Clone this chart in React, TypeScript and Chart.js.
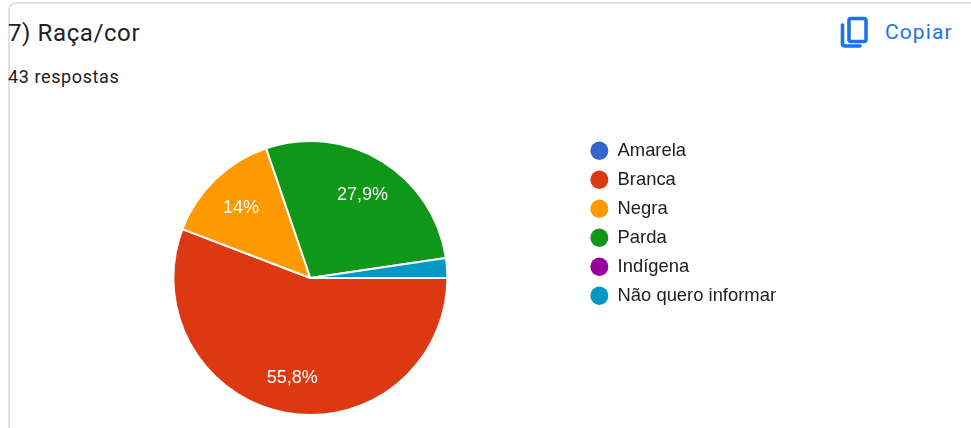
import React, { useEffect, useRef } from "react";
import { Chart, registerables } from "chart.js";

Chart.register(...registerables);

const title = "7) Raça/cor";
const subtitle = "43 respostas";
const copyLabel = "Copiar";
const categories = ["Amarela", "Branca", "Negra", "Parda", "Indígena", "Não quero informar"];
const counts = [0, 24, 6, 12, 0, 1];
const sliceLabels = ["", "55,8%", "14%", "27,9%", "", ""];
const colours = ["#3366cc", "#dc3912", "#ff9900", "#109618", "#990099", "#0099c6"];

const labelPlugin = {
  id: "sliceLabels",
  afterDatasetsDraw(chart: any) {
    const { ctx } = chart;
    const arcs = chart.getDatasetMeta(0).data;
    ctx.save();
    ctx.fillStyle = "#ffffff";
    ctx.font = '18px "Liberation Sans"';
    ctx.textAlign = "center";
    ctx.textBaseline = "middle";
    arcs.forEach((arc: any, i: number) => {
      if (!sliceLabels[i]) return;
      const { x, y, startAngle, endAngle, outerRadius } = arc.getProps(
        ["x", "y", "startAngle", "endAngle", "outerRadius"],
        true
      );
      const mid = (startAngle + endAngle) / 2;
      const r = outerRadius * 0.73;
      ctx.fillText(sliceLabels[i], x + Math.cos(mid) * r, y + Math.sin(mid) * r + 2);
    });
    ctx.restore();
  },
};

export default function App() {
  const ref = useRef<HTMLCanvasElement>(null);

  useEffect(() => {
    const chart = new Chart(ref.current!, {
      type: "pie",
      data: {
        labels: categories,
        datasets: [
          {
            data: counts,
            backgroundColor: colours,
            borderColor: "#ffffff",
            borderWidth: 2,
            radius: 137,
            rotation: 90,
          } as any,
        ],
      },
      options: {
        animation: false,
        responsive: false,
        layout: { padding: { left: 41, top: 131, right: 0, bottom: 3 } },
        plugins: {
          tooltip: { enabled: false },
          legend: {
            position: "right",
            align: "start",
            labels: {
              usePointStyle: true,
              pointStyle: "circle",
              pointStyleWidth: 18,
              boxHeight: 13,
              padding: 10.6,
              color: "#212121",
              font: { family: '"Liberation Sans"', size: 18.4 },
              generateLabels: (c: any) =>
                categories.map((text, index) => ({
                  text,
                  index,
                  fillStyle: colours[index],
                  strokeStyle: colours[index],
                  fontColor: "#212121",
                  lineWidth: 0,
                  pointStyle: "circle",
                  hidden: !c.getDataVisibility(index),
                })),
            },
          },
        },
      },
      plugins: [labelPlugin],
    } as any);
    return () => chart.destroy();
  }, []);

  return (
    <div style={{ position: "fixed", inset: 0, overflow: "hidden", background: "#fff" }}>
      <div
        style={{
          position: "absolute",
          left: 8,
          top: 2,
          width: 1000,
          height: 600,
          border: "2px solid #e0e1e6",
          borderRadius: 8,
          boxSizing: "border-box",
        }}
      />
      <div
        style={{
          position: "absolute",
          left: 8,
          top: 18,
          fontFamily: "Roboto",
          fontSize: 24,
          lineHeight: "30px",
          letterSpacing: 0.6,
          color: "#202124",
          whiteSpace: "nowrap",
        }}
      >
        {title}
      </div>
      <div
        style={{
          position: "absolute",
          left: 8,
          top: 66,
          fontFamily: "Roboto",
          fontSize: 18,
          lineHeight: "22px",
          letterSpacing: 0.6,
          color: "#202124",
          whiteSpace: "nowrap",
        }}
      >
        {subtitle}
      </div>
      <svg
        style={{ position: "absolute", left: 836, top: 12 }}
        width="36"
        height="40"
        viewBox="836 12 36 40"
        fill="none"
        stroke="#1a73e8"
        strokeWidth="3.6"
        strokeLinejoin="round"
        strokeLinecap="round"
      >
        <rect x="849" y="18.5" width="17" height="23" rx="2" />
        <path d="M842.5 25 V43.5 Q842.5 46 845 46 H860" />
      </svg>
      <div
        style={{
          position: "absolute",
          left: 885,
          top: 18,
          fontFamily: "Roboto",
          fontSize: 21,
          lineHeight: "28px",
          letterSpacing: 1.1,
          color: "#1a73e8",
          whiteSpace: "nowrap",
        }}
      >
        {copyLabel}
      </div>
      <canvas
        ref={ref}
        width={786}
        height={428}
        style={{ position: "absolute", left: 0, top: 0 }}
      />
    </div>
  );
}
